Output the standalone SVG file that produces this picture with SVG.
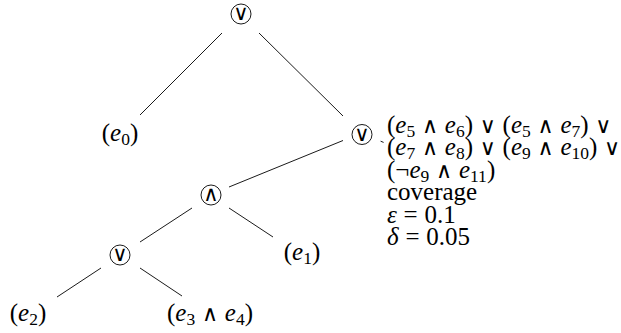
<svg xmlns="http://www.w3.org/2000/svg" width="621" height="333" viewBox="0 0 621 333">
<style>
.c{fill:#fff;stroke:#000;stroke-width:0.9}
.e line{stroke:#000;stroke-width:0.9}
.L{font-family:'Liberation Serif',serif;font-size:25px;fill:#000}
.it{font-style:italic}
.sb{font-size:17.5px}
.o{font-family:'DejaVu Sans',sans-serif;font-size:22px}
.op{font-family:'DejaVu Sans',sans-serif;font-size:21px;fill:#000}
.w{word-spacing:0.5px}
</style>
<rect width="621" height="333" fill="#fff"/>
<g id="connectors" class="e">
<line x1="222" y1="33" x2="140" y2="115"/>
<line x1="259" y1="33" x2="343" y2="116"/>
<line x1="343" y1="140.5" x2="229" y2="187"/>
<line x1="380.6" y1="141.2" x2="383.6" y2="142.4"/>
<line x1="192" y1="208" x2="140" y2="242"/>
<line x1="229" y1="208" x2="273" y2="237"/>
<line x1="101" y1="268" x2="57" y2="297"/>
<line x1="140" y1="268" x2="182" y2="296"/>
</g>
<g id="root">
<circle class="c" cx="241" cy="14" r="10"/>
<text class="op" x="241" y="20" text-anchor="middle">∨</text>
</g>
<g id="e0">
<text class="L" x="120" y="141" text-anchor="middle">(<tspan class="it">e</tspan><tspan class="sb" dy="4">0</tspan><tspan dy="-4">)</tspan></text>
</g>
<g id="or1">
<circle class="c" cx="362" cy="134.5" r="10"/>
<text class="op" x="362" y="140.5" text-anchor="middle">∨</text>
</g>
<g id="or1-label" class="L">
<text class="w" x="387" y="132.5">(<tspan class="it">e</tspan><tspan class="sb" dy="4">5</tspan><tspan dy="-4"> </tspan><tspan class="o">∧</tspan> <tspan class="it">e</tspan><tspan class="sb" dy="4">6</tspan><tspan dy="-4">) </tspan><tspan class="o">∨</tspan> (<tspan class="it">e</tspan><tspan class="sb" dy="4">5</tspan><tspan dy="-4"> </tspan><tspan class="o">∧</tspan> <tspan class="it">e</tspan><tspan class="sb" dy="4">7</tspan><tspan dy="-4">) </tspan><tspan class="o">∨</tspan></text>
<text class="w" x="387" y="155">(<tspan class="it">e</tspan><tspan class="sb" dy="4">7</tspan><tspan dy="-4"> </tspan><tspan class="o">∧</tspan> <tspan class="it">e</tspan><tspan class="sb" dy="4">8</tspan><tspan dy="-4">) </tspan><tspan class="o">∨</tspan> (<tspan class="it">e</tspan><tspan class="sb" dy="4">9</tspan><tspan dy="-4"> </tspan><tspan class="o">∧</tspan> <tspan class="it">e</tspan><tspan class="sb" dy="4">10</tspan><tspan dy="-4">) </tspan><tspan class="o">∨</tspan></text>
<text class="w" x="387" y="177.5">(¬<tspan class="it">e</tspan><tspan class="sb" dy="4">9</tspan><tspan dy="-4"> </tspan><tspan class="o">∧</tspan> <tspan class="it">e</tspan><tspan class="sb" dy="4">11</tspan><tspan dy="-4">)</tspan></text>
<text x="387" y="200">coverage</text>
<text class="w" x="387" y="222.5"><tspan class="it">ε</tspan> = 0.1</text>
<text class="w" x="387" y="245"><tspan class="it">δ</tspan> = 0.05</text>
</g>
<g id="and1">
<circle class="c" cx="211" cy="195" r="10"/>
<text class="op" x="211" y="201" text-anchor="middle">∧</text>
</g>
<g id="e1">
<text class="L" x="302" y="260" text-anchor="middle">(<tspan class="it">e</tspan><tspan class="sb" dy="4">1</tspan><tspan dy="-4">)</tspan></text>
</g>
<g id="or2">
<circle class="c" cx="120" cy="255" r="10"/>
<text class="op" x="120" y="261" text-anchor="middle">∨</text>
</g>
<g id="e2">
<text class="L" x="28" y="321" text-anchor="middle">(<tspan class="it">e</tspan><tspan class="sb" dy="4">2</tspan><tspan dy="-4">)</tspan></text>
</g>
<g id="e3e4">
<text class="L w" x="210" y="321" text-anchor="middle">(<tspan class="it">e</tspan><tspan class="sb" dy="4">3</tspan><tspan dy="-4"> </tspan><tspan class="o">∧</tspan> <tspan class="it">e</tspan><tspan class="sb" dy="4">4</tspan><tspan dy="-4">)</tspan></text>
</g>
</svg>
